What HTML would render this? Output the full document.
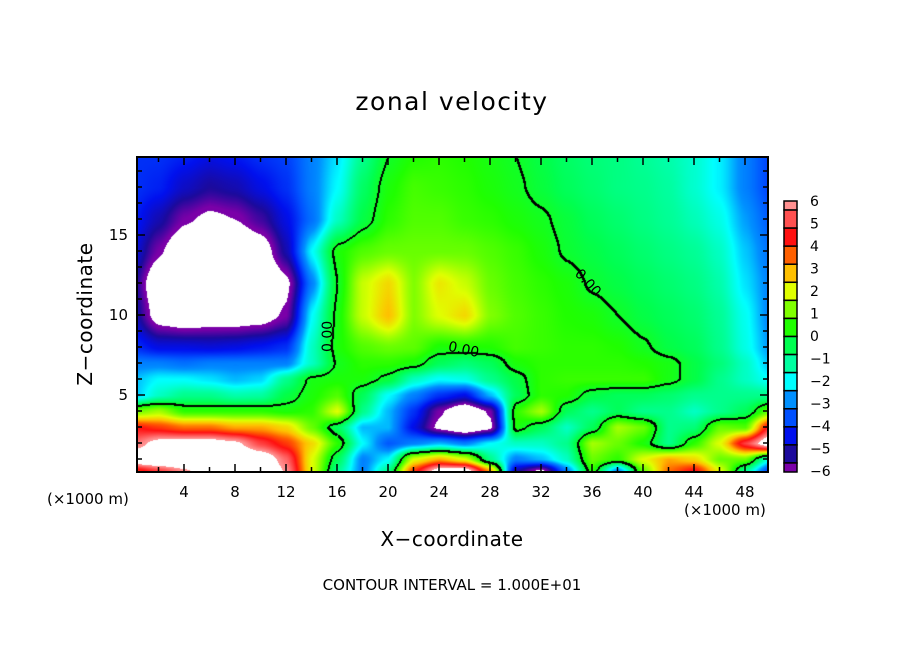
<!DOCTYPE html>
<html><head><meta charset="utf-8"><style>
body{margin:0;background:#fff;}
#root{position:relative;width:904px;height:654px;overflow:hidden;background:#fff;font-family:"DejaVu Sans","Liberation Sans",sans-serif;color:#000;}
.t{position:absolute;white-space:nowrap;}
</style></head><body>
<div id="root">
<div class="t" style="left:0;width:904px;text-align:center;top:87px;font-size:25px;letter-spacing:1.5px;">zonal velocity</div>
<canvas id="cv" width="631" height="315" style="position:absolute;left:137px;top:157px;"></canvas>
<svg id="ov" width="904" height="654" style="position:absolute;left:0;top:0;"></svg>
<div class="t" style="left:85px;top:314px;font-size:20px;letter-spacing:0.5px;transform:translate(-50%,-50%) rotate(-90deg);">Z−coordinate</div>
<div class="t" style="left:0;width:904px;text-align:center;top:527px;font-size:20px;letter-spacing:0.5px;">X−coordinate</div>
<div class="t" style="left:47px;top:490px;font-size:15px;">(×1000 m)</div>
<div class="t" style="left:684px;top:501px;font-size:15px;">(×1000 m)</div>
<div class="t" style="left:0;width:904px;text-align:center;top:576px;font-size:15px;">CONTOUR INTERVAL = 1.000E+01</div>
<div class="t" style="left:320px;top:352px;font-size:14px;transform:rotate(-90deg);transform-origin:0 0;">0.00</div>
<div class="t" style="left:448px;top:342px;font-size:14px;transform:rotate(12deg);">0.00</div>
<div class="t" style="left:572px;top:275px;font-size:14px;transform:rotate(48deg);">0.00</div>
</div>
<script>
const xs=[0,2,4,6,8,10,12,14,16,18,20,22,24,26,28,30,32,34,36,38,40,42,44,46,48,50];
const zs=[0.3,1,2,3,4,5,6,7,8,10,12,14,16,18,20];
const V=[
[4,5,6,7,8,8,6,2,-1,-3,-1,4,7,7,3,-5,-6.5,-3,0.5,-3,1,3.5,4.5,2,-1,-4],
[7.5,8,8,8,8,7.5,5.5,2,-0.5,-3,-2,2,3,2,-1,-3,-2.5,-1.5,1,0.5,2,3,2.5,1,1,-2],
[5.5,6.8,7,7,6.5,5,4,2.5,0.5,-2,-3.5,-3,-2.5,-3,-2,-1.5,-1.5,-1,1.5,1,0.3,-1,0.5,2,5,7.5],
[4.5,4,3.5,3.5,3,3,2.5,1,-0.5,-2.5,-2.5,-4.5,-6.5,-7.5,-6.5,0.3,-0.5,-1.5,-0.5,1.5,1,-1,-0.8,1,0.8,5],
[1,1.5,0.5,0.5,0.5,0.5,0.3,0.5,2,-1,-2.5,-4,-6,-7.5,-6,0.5,1.5,-0.5,-1,-0.5,-1,-1,-1.5,-1,-0.5,1],
[-2.5,-1.5,-1,-1,-1.3,-1.2,-0.3,0.3,0.8,-0.5,-2,-3,-4,-4.5,-2.5,-0.5,0.5,0.4,-0.3,-0.5,-0.5,-0.7,-1,-1,-1,-1],
[-2.5,-2,-2,-2.2,-2.5,-2.3,-1,0.2,0.3,0.3,-0.2,-1.5,-2,-1.8,-1,-0.3,0.5,0.6,0.6,0.6,0.6,0.2,-0.3,-1,-1.5,-2],
[-3,-3,-3.2,-3,-3,-3,-3,-1.5,0.1,0.5,0.5,0.3,-0.5,-0.8,-0.5,0.3,0.5,0.5,0.5,0.5,0.4,0.2,-0.3,-0.8,-1.5,-2.5],
[-4,-4.5,-4.5,-4.6,-4.5,-4.3,-4,-1.5,0.3,0.8,1,0.9,0.3,0.3,0.4,0.7,0.6,0.5,0.5,0.4,0.1,-0.3,-0.5,-1,-1.8,-2.8],
[-4.8,-6.8,-7.2,-7,-7,-6.8,-6,-2,0.2,1.8,2.8,1.2,2,2.5,1.2,0.8,0.6,0.4,0.3,0,-0.3,-0.5,-0.7,-1.1,-1.9,-3],
[-5,-7.5,-8,-8,-8,-8,-6.5,-3,0,1.8,2.5,1.2,2.3,1.8,1,0.7,0.5,0.3,-0.1,-0.3,-0.5,-0.7,-0.9,-1.3,-2.2,-3],
[-4.5,-6,-7.5,-8,-8,-7,-5,-2,0.3,0.8,1,1,1,1,0.8,0.6,0.3,-0.1,-0.3,-0.5,-0.7,-0.9,-1.1,-1.5,-2.4,-3.2],
[-4.2,-5,-6,-6.5,-6.2,-5.5,-4.5,-3.2,-1.5,-0.3,0.5,0.8,0.8,0.6,0.5,0.3,0.1,-0.2,-0.5,-0.7,-0.9,-1.1,-1.4,-1.8,-2.7,-3.5],
[-4,-4.2,-4.8,-5.2,-5,-4.5,-4,-3,-2,-0.6,0.3,0.7,0.6,0.5,0.3,0.1,-0.2,-0.5,-0.7,-0.9,-1,-1.2,-1.6,-2.1,-3,-3.8],
[-4,-4,-4.2,-4.5,-4.3,-4,-3.8,-3,-2.2,-1,0,0.4,0.5,0.4,0.2,0,-0.3,-0.6,-0.8,-0.9,-1.1,-1.3,-1.6,-2.1,-3,-3.8]
];
const cbColors=["#7a00a8","#1c0a9c","#0010ee","#0050ff","#0090ff","#00ffff","#00ffa0","#00ff50","#20ff00","#80ff00","#e0ff00","#ffc000","#ff6000","#ff1010","#ff5050","#ff9090"];
const cbLabels=["6","5","4","3","2","1","0","−1","−2","−3","−4","−5","−6"];
const xTicks=[4,8,12,16,20,24,28,32,36,40,44,48];
const zTicks=[5,10,15];

const sx=x=>133+x*12.75, sz=z=>475-z*16;
const ix=px=>(px-133)/12.75, iz=py=>(475-py)/16;
function seg(a,v){let i=0;while(i<a.length-2&&v>a[i+1])i++;let t=(v-a[i])/(a[i+1]-a[i]);t=Math.max(0,Math.min(1,t));return [i,t];}
function field(x,z){const [i,tx]=seg(xs,x),[j,tz]=seg(zs,z);
 const a=V[j][i],b=V[j][i+1],c=V[j+1][i],d=V[j+1][i+1];
 const sx2=tx*tx*(3-2*tx)*0.5+tx*0.5, sz2=tz*tz*(3-2*tz)*0.5+tz*0.5;
 return (a*(1-sx2)+b*sx2)*(1-sz2)+(c*(1-sx2)+d*sx2)*sz2;}
function hex(h){return [parseInt(h.substr(1,2),16),parseInt(h.substr(3,2),16),parseInt(h.substr(5,2),16)];}
const rgb=cbColors.map(hex);
function colorOf(v){
 if(v>6.2||v<-6.2)return [255,255,255];
 let t=(v+6)/0.8;t=Math.max(0,Math.min(15,t));
 const k=Math.min(14,Math.floor(t)),f=t-k;
 return [0,1,2].map(q=>Math.round(rgb[k][q]*(1-f)+rgb[k+1][q]*f));}
const cv=document.getElementById('cv'),ctx=cv.getContext('2d');
const W=cv.width,H=cv.height,img=ctx.createImageData(W,H);
const F=new Float32Array(W*H);
for(let y=0;y<H;y++)for(let x=0;x<W;x++)F[y*W+x]=field(ix(x+137),iz(y+157));
const B=new Uint8Array(W*H);
for(let y=0;y<H;y++)for(let x=0;x<W;x++){
 const v=F[y*W+x],r=x<W-1?F[y*W+x+1]:v,dn=y<H-1?F[(y+1)*W+x]:v;
 if(v*r<0||v*dn<0){B[y*W+x]=1;if(x<W-1)B[y*W+x+1]=1;if(y<H-1)B[(y+1)*W+x]=1;}}
for(let y=0;y<H;y++)for(let x=0;x<W;x++){
 const c=B[y*W+x]?[0,0,0]:colorOf(F[y*W+x]);
 const o=(y*W+x)*4;img.data[o]=c[0];img.data[o+1]=c[1];img.data[o+2]=c[2];img.data[o+3]=255;}
ctx.putImageData(img,0,0);

const NS="http://www.w3.org/2000/svg",ov=document.getElementById('ov');
function mk(t,at,p){const e=document.createElementNS(NS,t);for(const k in at)e.setAttribute(k,at[k]);(p||ov).appendChild(e);return e;}
const frame=mk('rect',{x:137,y:157,width:631,height:315,fill:'none',stroke:'#000','stroke-width':2});


for(let x=2;x<=48;x+=2){const p=sx(x);
 mk('line',{x1:p,y1:472,x2:p,y2:x%4==0?464:467,stroke:'#000','stroke-width':1.5});
 mk('line',{x1:p,y1:157,x2:p,y2:x%4==0?165:162,stroke:'#000','stroke-width':1.5});}
for(let z=1;z<=19;z++){const p=sz(z),L=z%5==0?8:5;
 mk('line',{x1:137,y1:p,x2:137+L,y2:p,stroke:'#000','stroke-width':1.5});
 mk('line',{x1:768,y1:p,x2:768-L,y2:p,stroke:'#000','stroke-width':1.5});}
xTicks.forEach(t=>{const e=mk('text',{x:sx(t),y:497,'text-anchor':'middle','font-size':15,'font-family':'DejaVu Sans, Liberation Sans, sans-serif'});e.textContent=t;
 
 });
zTicks.forEach(t=>{const e=mk('text',{x:128,y:sz(t)+5,'text-anchor':'end','font-size':15,'font-family':'DejaVu Sans, Liberation Sans, sans-serif'});e.textContent=t;
 
 });
const cbTop=201,cbBot=472,bh=(cbBot-cbTop)/15;
cbColors.slice().reverse().forEach((c,i)=>{let y0=cbTop+(i-0.5)*bh,y1=y0+bh;if(i==0)y0=cbTop;if(i==15)y1=cbBot;
 const r=mk('rect',{x:784,y:y0,width:13,height:y1-y0,fill:c,stroke:'#000','stroke-width':1.5});
 
 });
cbLabels.forEach((l,i)=>{const y=cbTop+i*(cbBot-cbTop-1)/12;
 const e=mk('text',{x:810,y:y+5,'font-size':14,'font-family':'DejaVu Sans, Liberation Sans, sans-serif'});e.textContent=l;
 
 });
</script>
</body></html>
